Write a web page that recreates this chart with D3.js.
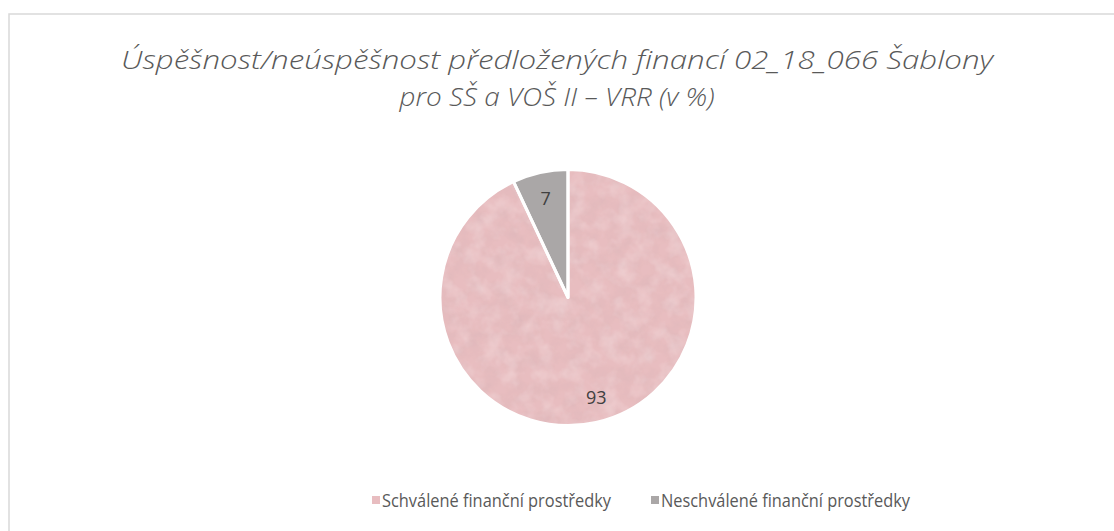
<!DOCTYPE html>
<html><head><meta charset="utf-8">
<script src="https://cdn.jsdelivr.net/npm/d3@7"></script>
<style>html,body{margin:0;padding:0;background:#fff;}svg{display:block;}</style>
</head><body>
<script>
const categories = ["Schválené finanční prostředky", "Neschválené finanční prostředky"];
const values = [93, 7];
const colors = ["#e8bdc0", "#aaa7a7"];
const titleLines = ["Úspěšnost/neúspěšnost předložených financí 02_18_066 Šablony", "pro SŠ a VOŠ II – VRR (v %)"];

const W = 1114, H = 531;
const svg = d3.select("body").append("svg").attr("width", W).attr("height", H);

const defs = svg.append("defs");
const f = defs.append("filter").attr("id", "tex").attr("x", "-10%").attr("y", "-10%").attr("width", "120%").attr("height", "120%");
f.append("feTurbulence").attr("type", "fractalNoise").attr("baseFrequency", 0.07).attr("numOctaves", 4).attr("seed", 7).attr("result", "noise");
f.append("feColorMatrix").attr("in", "noise").attr("type", "matrix")
  .attr("values", "0 0 0 0 0.62  0 0 0 0 0.42  0 0 0 0 0.45  0.6 0 0 0 -0.22").attr("result", "tint");
f.append("feComposite").attr("in", "tint").attr("in2", "SourceGraphic").attr("operator", "in").attr("result", "tc");
f.append("feTurbulence").attr("type", "fractalNoise").attr("baseFrequency", 0.06).attr("numOctaves", 3).attr("seed", 21).attr("result", "noise2");
f.append("feColorMatrix").attr("in", "noise2").attr("type", "matrix")
  .attr("values", "0 0 0 0 1  0 0 0 0 0.92  0 0 0 0 0.93  0.5 0 0 0 -0.2").attr("result", "tint2");
f.append("feComposite").attr("in", "tint2").attr("in2", "SourceGraphic").attr("operator", "in").attr("result", "tc2");
f.append("feMerge").selectAll("feMergeNode").data(["SourceGraphic", "tc", "tc2"]).enter().append("feMergeNode").attr("in", d => d);

// frame
svg.append("rect").attr("x", 9).attr("y", 14).attr("width", W + 10).attr("height", H + 10)
  .attr("fill", "#fff").attr("stroke", "#d9d9d9").attr("stroke-width", 1.5);

// title
const tw = [872, 315];
svg.append("g").selectAll("text").data(titleLines).enter().append("text")
  .attr("x", 557).attr("y", (d, i) => 69 + i * 37)
  .attr("text-anchor", "middle")
  .attr("font-family", "'Open Sans', sans-serif").attr("font-style", "italic").attr("font-weight", 300)
  .attr("font-size", 25).attr("fill", "#595959")
  .attr("textLength", (d, i) => tw[i]).attr("lengthAdjust", "spacingAndGlyphs")
  .text(d => d);

// pie
const cx = 568, cy = 297.5, R = 128;
const pie = d3.pie().sort(null).startAngle(0).endAngle(2 * Math.PI);
const arcs = pie(values);
const arc = d3.arc().innerRadius(0).outerRadius(R);
const g = svg.append("g").attr("transform", `translate(${cx},${cy})`);
g.selectAll("path.s").data(arcs).enter().append("path").attr("class", "s")
  .attr("d", arc).attr("fill", (d, i) => colors[i])
  .attr("filter", (d, i) => i === 0 ? "url(#tex)" : null);
g.selectAll("path.b").data(arcs).enter().append("path").attr("class", "b")
  .attr("d", arc).attr("fill", "none").attr("stroke", "#fff").attr("stroke-width", 3).attr("stroke-linejoin", "round");

const labelArc = d3.arc().innerRadius(102).outerRadius(102);
g.selectAll("text.l").data(arcs).enter().append("text").attr("class", "l")
  .attr("transform", d => {
    const c = labelArc.centroid(d);
    return `translate(${c[0] + (d.index === 0 ? 6 : 0)},${c[1]})`;
  })
  .attr("text-anchor", "middle").attr("dominant-baseline", "central")
  .attr("font-family", "'Open Sans', sans-serif").attr("font-size", 18).attr("fill", "#404040")
  .text(d => d.data);

// legend
const legX = [372, 651], legTW = [229, 249];
const lg = svg.append("g").selectAll("g").data(categories).enter().append("g")
  .attr("transform", (d, i) => `translate(${legX[i]},500)`);
lg.append("rect").attr("x", 0).attr("y", -4).attr("width", 8).attr("height", 8).attr("fill", (d, i) => colors[i]);
lg.append("text").attr("x", 10).attr("y", 0).attr("dominant-baseline", "central")
  .attr("font-family", "'Open Sans', sans-serif").attr("font-size", 17.5).attr("fill", "#595959")
  .attr("textLength", (d, i) => legTW[i]).attr("lengthAdjust", "spacingAndGlyphs")
  .text(d => d);
</script>
</body></html>
